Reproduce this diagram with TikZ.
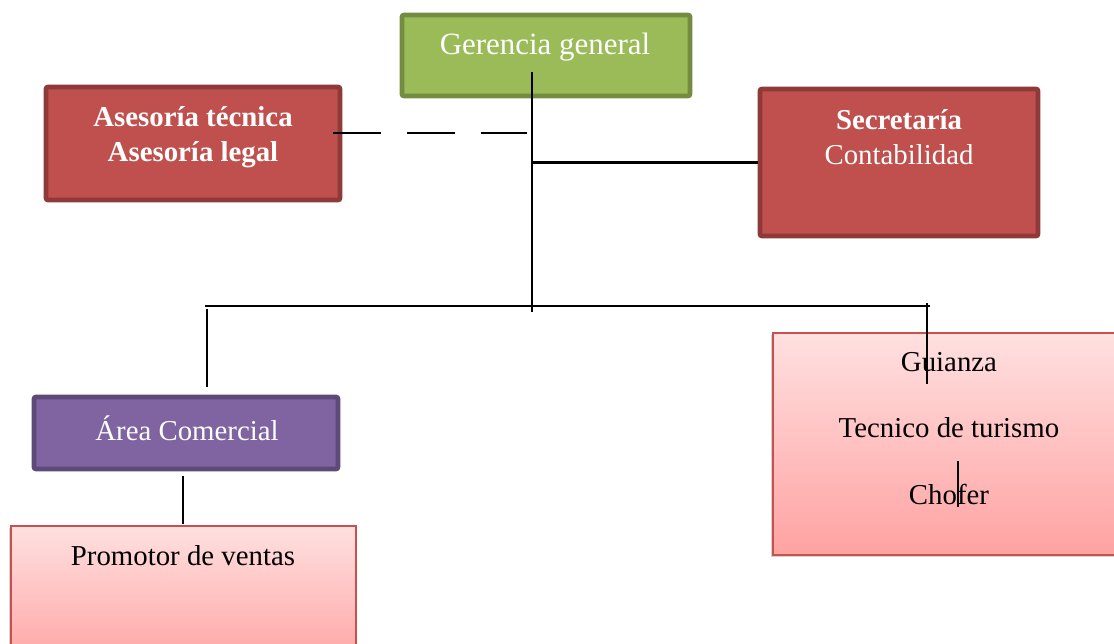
\documentclass[tikz,border=0pt]{standalone}
\usepackage{fontspec}
\setmainfont{Liberation Serif}
\usetikzlibrary{positioning, fit, shadows}

\definecolor{gerfill}{HTML}{9BBB59}
\definecolor{gerline}{HTML}{738C42}
\definecolor{redfill}{HTML}{C0504D}
\definecolor{redline}{HTML}{8F3A38}
\definecolor{purfill}{HTML}{8064A2}
\definecolor{purline}{HTML}{5E4A78}
\definecolor{pinktop}{HTML}{FFE0E0}
\definecolor{pinkbot}{HTML}{FFA2A2}
\definecolor{pinkline}{HTML}{C8504D}

\begin{document}
\begin{tikzpicture}[
  x=0.025cm, y=-0.025cm,
  box/.style={draw, rounded corners=1.5pt, inner sep=0pt, line width=3.4pt},
  pinkbox/.style={draw=pinkline, line width=1.1pt, inner sep=0pt,
    top color=pinktop, bottom color=pinkbot,
    drop shadow={shadow xshift=-1.5pt, shadow yshift=-1.5pt, opacity=0.35}},
  lbl/.style={font=\fontsize{20.5}{24.8}\selectfont, align=center, inner sep=0pt},
  link/.style={line width=1.5pt}
]
  \useasboundingbox (0,0) rectangle (1114,644);
  \clip (0,0) rectangle (1114,644);

  % Top level
  \node[box, draw=gerline, fill=gerfill, fit={(402,15) (690,96)}] (ger) {};
  \node[lbl, text=white, font=\fontsize{22}{26}\selectfont] (gertxt) at (545,47) {Gerencia general};

  % Staff boxes
  \node[box, draw=redline, fill=redfill, fit={(46,87) (340,200)}] (ases) {};
  \node[lbl, text=white, font=\fontsize{20.5}{24.8}\selectfont\bfseries] (asestxt) at (193,137)
    {Asesoría técnica\\Asesoría legal};
  \node[box, draw=redline, fill=redfill, fit={(760,89) (1038,236)}] (sec) {};
  \node[lbl, text=white] (sectxt) at (899,137) {\textbf{Secretaría}\\Contabilidad};

  % Commercial branch
  \node[box, draw=purline, fill=purfill, fit={(34,397) (338,469)}] (com) {};
  \node[lbl, text=white] (comtxt) at (187,428) {Área Comercial};
  \node[pinkbox, fit={(11,526) (356,670)}] (prom) {};
  \node[lbl] (promtxt) at (183,556) {Promotor de ventas};

  % Tourism branch
  \node[pinkbox, fit={(773,333) (1130,555)}] (tur) {};
  \node[lbl] (guia) at (949,362) {Guianza};
  \node[lbl] (tec) at (949,428) {Tecnico de turismo};
  \node[lbl] (chof) at (949,494) {Chofer};

  % Connectors
  \coordinate (g0) at (532,72);
  \coordinate (g1) at (532,312);
  \coordinate (bl) at (205,306);
  \coordinate (br) at (930,306);
  \draw[link] (g0) -- (g1);
  \draw[link] (g0 |- sec.west) -- (sec.west);
  \draw[link, dash pattern=on 34pt off 18.5pt] (333,133) coordinate (d0) -- (527,133) coordinate (d1);
  \draw[link] (bl) -- (br);
  \draw[link] (207,309) coordinate (c0) -- (207,387) coordinate (c1);
  \draw[link] (927,303) coordinate (t0) -- (927,384) coordinate (t1);
  \draw[link] (183,476) coordinate (p0) -- (183,524) coordinate (p1);
  \draw[link] (958,461) coordinate (h0) -- (958,507) coordinate (h1);
\end{tikzpicture}
\end{document}
